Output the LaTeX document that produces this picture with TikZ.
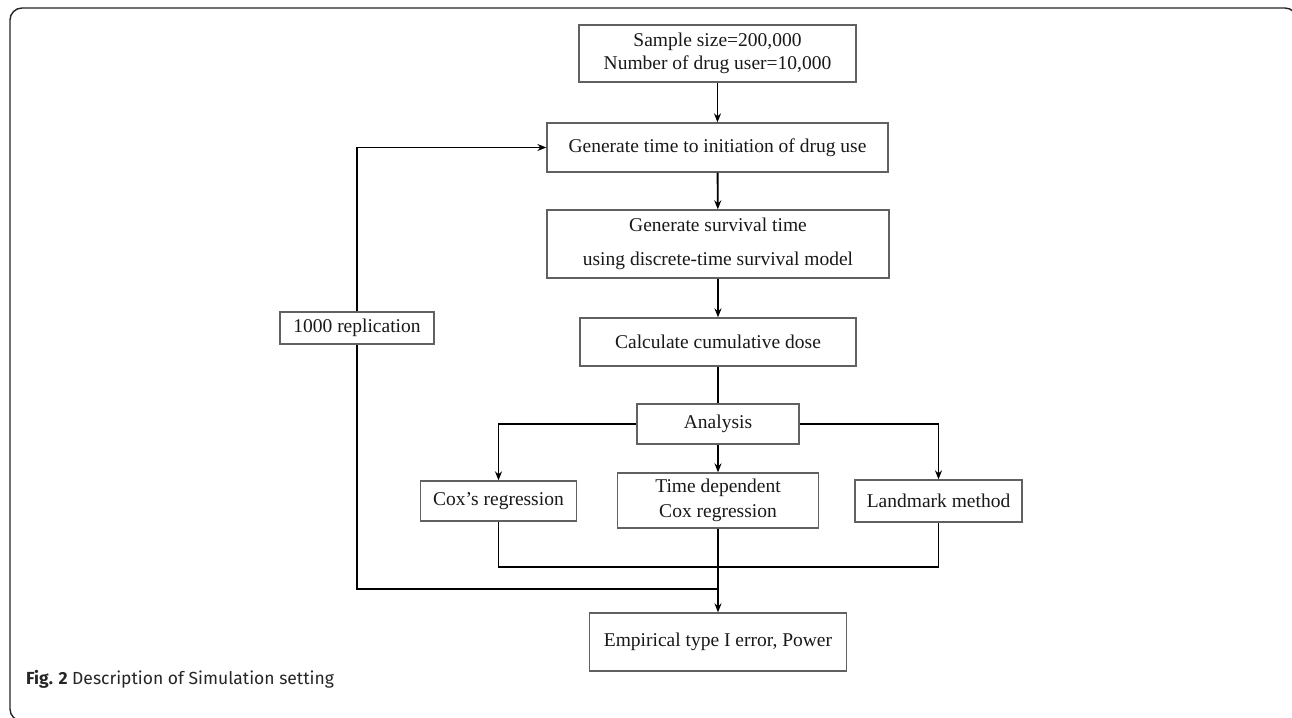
\documentclass[tikz,border=0pt]{standalone}
\usepackage{fontspec}
\setmainfont{Liberation Serif}
\newfontfamily\capfam{Fira Sans}
\usetikzlibrary{arrows.meta}
\newcommand\bxfont{\fontsize{19.5}{23}\selectfont}
\tikzset{
  box/.style={draw=black!62, line width=1.3pt, inner sep=0pt, align=center, font=\bxfont, text=black!90},
  conn/.style={draw=black, line width=1.9pt},
  arr/.style={conn, -{Stealth[length=9pt,width=7pt]}},
}
\begin{document}
\begin{tikzpicture}[x=1pt,y=-1pt]
\useasboundingbox (0,0) rectangle (1292,717);
\fill[white] (0,0) rectangle (1292,717);
\begin{scope}
\clip (0,0) rectangle (1292,717);
\draw[line width=1.4pt, black!85, rounded corners=12pt]
  (1297,60) -- (1297,8) -- (10,8) -- (10,721) -- (80,721);
\end{scope}

\node[box, minimum width=277pt, minimum height=57pt] (samp) at (717.5,53.5)
  {Sample size=200,000\\Number of drug user=10,000};
\node[box, minimum width=341pt, minimum height=49pt] (gen) at (717.5,147.5)
  {Generate time to initiation of drug use};
\node[box, minimum width=342pt, minimum height=68pt] (surv) at (718,244)
  {Generate survival time\\[11pt]using discrete-time survival model};
\node[box, minimum width=276pt, minimum height=48pt] (calc) at (718,342)
  {Calculate cumulative dose};
\node[box, minimum width=162pt, minimum height=40pt] (anal) at (718,424)
  {Analysis};
\node[box, minimum width=156pt, minimum height=40pt] (cox) at (498.5,501)
  {Cox's regression};
\node[box, minimum width=201pt, minimum height=55pt] (tdep) at (718,500.5)
  {Time dependent\\[2pt]Cox regression};
\node[box, minimum width=167pt, minimum height=42pt] (land) at (938.5,501)
  {Landmark method};
\node[box, minimum width=257pt, minimum height=58pt] (emp) at (718,642)
  {Empirical type I error, Power};
\node[box, minimum width=154pt, minimum height=32pt] (rep) at (357,328)
  {1000 replication};

\coordinate (m) at (718,567);
\coordinate (lp) at (718,589);

\draw[arr] (samp) -- (gen);
\draw[arr] (gen) -- (surv);
\draw[arr] (surv) -- (calc);
\draw[conn] (calc) -- (anal);
\draw[arr] (anal.west) -| (cox.north);
\draw[arr] (anal.east) -| (land.north);
\draw[arr] (anal) -- (tdep);
\draw[conn] (cox.south) |- (m) -| (land.south);
\draw[arr] (tdep) -- (emp);
\draw[conn] (lp) -| (rep.south);
\draw[arr] (rep.north) |- (gen.west);

\node[anchor=base west, inner sep=0pt, font=\capfam\fontsize{17.5}{20}\selectfont, text=black!85] (cap) at (26,684)
  {\textbf{Fig. 2} Description of Simulation setting};
\end{tikzpicture}
\end{document}
